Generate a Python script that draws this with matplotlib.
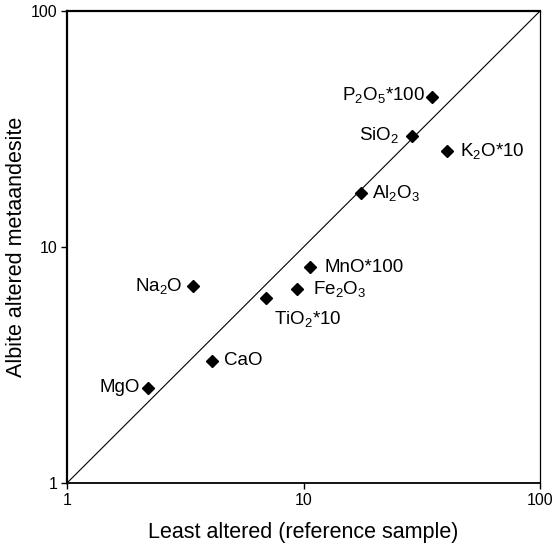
import matplotlib
matplotlib.use("Agg")
import matplotlib.pyplot as plt
from matplotlib.ticker import FixedLocator, NullLocator, FixedFormatter

plt.rcParams['font.family'] = ['Liberation Sans', 'DejaVu Sans']
plt.rcParams['mathtext.fontset'] = 'custom'
plt.rcParams['mathtext.rm'] = 'Liberation Sans'
plt.rcParams['mathtext.it'] = 'Liberation Sans'
plt.rcParams['mathtext.default'] = 'regular'

# -------------------------
# Data
# -------------------------
oxides = ["MgO", "CaO", "Na$_2$O", "TiO$_2$*10", "Fe$_2$O$_3$", "MnO*100",
          "Al$_2$O$_3$", "SiO$_2$", "K$_2$O*10", "P$_2$O$_5$*100"]
least_altered = [2.19, 4.12, 3.42, 6.92, 9.36, 10.7, 17.5, 28.7, 40.3, 34.8]
albite_altered = [2.53, 3.29, 6.86, 6.10, 6.62, 8.20, 17.0, 29.5, 25.6, 43.4]

# label offsets in points and alignment
offsets = [(-5.5, 0, 'right', 'center'),
           (8.4, 0, 'left', 'center'),
           (-7.5, 0, 'right', 'center'),
           (6.2, -8, 'left', 'top'),
           (12.0, 0, 'left', 'center'),
           (10.0, 0, 'left', 'center'),
           (8.0, 0, 'left', 'center'),
           (-9.5, 1, 'right', 'center'),
           (9.5, 0, 'left', 'center'),
           (-5.0, 1, 'right', 'center')]

ticks = [1, 10, 100]
tick_labels = ["1", "10", "100"]

# -------------------------
# Plot
# -------------------------
fig = plt.figure(figsize=(5.59, 5.48), dpi=100)
ax = fig.add_axes([0.1199, 0.1186, 0.8462, 0.8613])

ax.set_xscale('log')
ax.set_yscale('log')
ax.set_xlim(1, 100)
ax.set_ylim(1, 100)

# 1:1 line
ax.plot(ticks, ticks, color='black', lw=0.8, zorder=1)

ax.plot(least_altered, albite_altered, linestyle='none', marker='D',
        ms=6, color='black', zorder=3)

for name, x, y, (dx, dy, ha, va) in zip(oxides, least_altered, albite_altered, offsets):
    ax.annotate(name, (x, y), xytext=(dx, dy), textcoords='offset points',
                ha=ha, va=va, fontsize=13.5)

for axis in (ax.xaxis, ax.yaxis):
    axis.set_major_locator(FixedLocator(ticks))
    axis.set_major_formatter(FixedFormatter(tick_labels))
    axis.set_minor_locator(NullLocator())

ax.tick_params(axis='both', direction='out', length=4, width=1.0,
               labelsize=11.5, pad=3)

ax.spines['left'].set_linewidth(1.6)
ax.spines['top'].set_linewidth(1.6)
ax.spines['bottom'].set_linewidth(1.3)
ax.spines['right'].set_linewidth(0.9)

ax.set_xlabel("Least altered (reference sample)", fontsize=15.5, labelpad=10)
ax.set_ylabel("Albite altered metaandesite", fontsize=15.5, labelpad=3)

plt.savefig("out.png", dpi=100)
